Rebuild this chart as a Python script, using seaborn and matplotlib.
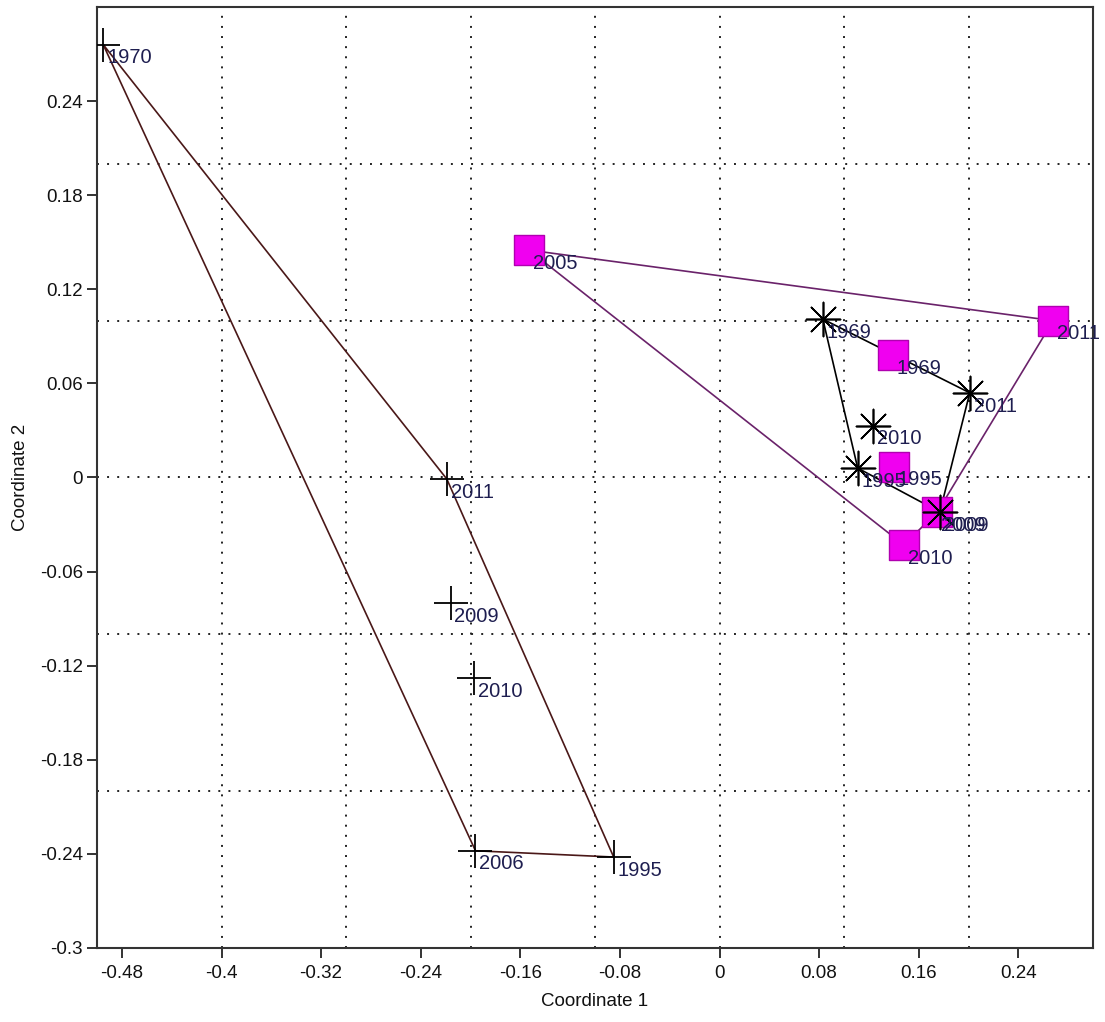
import numpy as np
import matplotlib
matplotlib.use("Agg")
import matplotlib.pyplot as plt
from matplotlib.ticker import MultipleLocator, FixedLocator
import seaborn as sns

# --- group A (plus markers) ---
a_labels = ["1970", "2011", "2009", "2010", "2006", "1995"]
a_x = [-0.495, -0.219, -0.216, -0.197, -0.196, -0.085]
a_y = [0.276, -0.001, -0.080, -0.128, -0.238, -0.242]

# --- group B (asterisk markers) ---
b_labels = ["1969", "2011", "2010", "1995", "2009"]
b_x = [0.083, 0.201, 0.123, 0.111, 0.177]
b_y = [0.101, 0.054, 0.033, 0.006, -0.022]

# --- group C (square markers) ---
c_labels = ["2005", "2011", "1969", "1995", "2009", "2010"]
c_x = [-0.153, 0.268, 0.139, 0.140, 0.175, 0.148]
c_y = [0.145, 0.100, 0.078, 0.007, -0.022, -0.043]

x_ticks = [-0.48, -0.40, -0.32, -0.24, -0.16, -0.08, 0.0, 0.08, 0.16, 0.24]
y_ticks = [-0.30, -0.24, -0.18, -0.12, -0.06, 0.0, 0.06, 0.12, 0.18, 0.24]
x_tick_labels = ["-0.48", "-0.4", "-0.32", "-0.24", "-0.16", "-0.08", "0", "0.08", "0.16", "0.24"]
y_tick_labels = ["-0.3", "-0.24", "-0.18", "-0.12", "-0.06", "0", "0.06", "0.12", "0.18", "0.24"]

sns.set_style("white")
plt.rcParams["font.family"] = ["Liberation Sans", "DejaVu Sans"]


def convex_hull(xs, ys):
    pts = sorted(set(zip(xs, ys)))
    if len(pts) < 3:
        return pts

    def cross(o, a, b):
        return (a[0] - o[0]) * (b[1] - o[1]) - (a[1] - o[1]) * (b[0] - o[0])

    lower, upper = [], []
    for p in pts:
        while len(lower) >= 2 and cross(lower[-2], lower[-1], p) <= 0:
            lower.pop()
        lower.append(p)
    for p in reversed(pts):
        while len(upper) >= 2 and cross(upper[-2], upper[-1], p) <= 0:
            upper.pop()
        upper.append(p)
    hull = lower[:-1] + upper[:-1]
    return hull + [hull[0]]


fig = plt.figure(figsize=(11.05, 10.22), dpi=100)
ax = fig.add_axes([97 / 1105, 1 - 948 / 1022, 996 / 1105, 941 / 1022])

groups = [
    (a_x, a_y, a_labels, "#4a1818"),
    (b_x, b_y, b_labels, "black"),
    (c_x, c_y, c_labels, "#6a226a"),
]

# convex hulls
for gx, gy, _, hull_col in groups:
    hull = convex_hull(gx, gy)
    hx = [p[0] for p in hull]
    hy = [p[1] for p in hull]
    ax.plot(hx, hy, color=hull_col, lw=1.2, zorder=2)

# markers: squares first, line-art markers on top
sns.scatterplot(x=c_x, y=c_y, marker="s", s=490, color="#f000f0",
                edgecolor="#b000b0", linewidth=1.0, ax=ax, zorder=3)
sns.scatterplot(x=a_x, y=a_y, marker="+", s=600, color="black",
                linewidth=1.3, ax=ax, zorder=4)
sns.scatterplot(x=b_x, y=b_y, marker=(8, 2, 0), s=600, color="black",
                linewidth=1.2, ax=ax, zorder=4)

# point labels
for gx, gy, glab, _ in groups:
    for x, y, t in zip(gx, gy, glab):
        ax.annotate(t, (x, y), xytext=(2.8, -9.5), textcoords="offset points",
                    ha="left", va="center", fontsize=14.5, color="#1e1e50",
                    zorder=5)

ax.set_xlim(-0.5, 0.3)
ax.set_ylim(-0.3, 0.3)

ax.xaxis.set_major_locator(FixedLocator(x_ticks))
ax.yaxis.set_major_locator(FixedLocator(y_ticks))
ax.set_xticklabels(x_tick_labels)
ax.set_yticklabels(y_tick_labels)

# dotted grid on every 0.1, independent of the labelled ticks
ax.xaxis.set_minor_locator(MultipleLocator(0.1))
ax.yaxis.set_minor_locator(MultipleLocator(0.1))
ax.xaxis.remove_overlapping_locs = False
ax.yaxis.remove_overlapping_locs = False

ax.grid(False, which="major")
ax.grid(True, which="minor", color="#222222", linestyle=(0, (1, 4.2)), lw=1.4)
ax.set_axisbelow(True)

ax.tick_params(axis="both", which="major", direction="out", length=7,
               width=1.4, color="#333333", labelsize=13.5, labelcolor="#111111",
               pad=3)
ax.tick_params(axis="x", which="major", pad=5)
ax.tick_params(axis="both", which="minor", length=0)
ax.tick_params(left=True, bottom=True)

for sp in ax.spines.values():
    sp.set_color("#333333")
    sp.set_linewidth(1.5)
    sp.set_visible(True)

ax.set_xlabel("Coordinate 1", fontsize=13.5, color="#111111", labelpad=8)
ax.set_ylabel("Coordinate 2", fontsize=13.5, color="#111111", labelpad=8)

fig.savefig("out.png", dpi=100)
